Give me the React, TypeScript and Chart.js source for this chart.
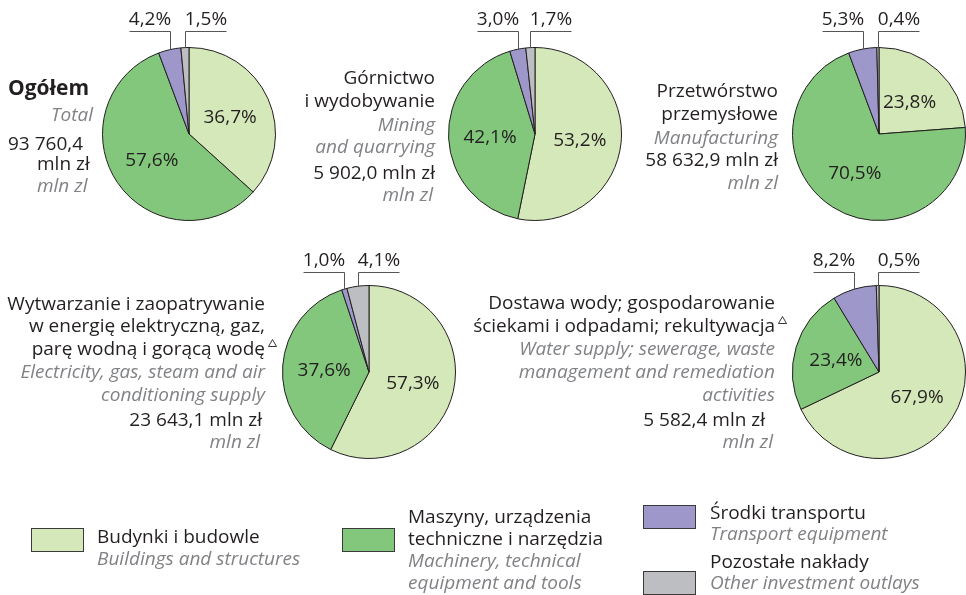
import React, { useEffect, useRef } from "react";
import { Chart, registerables } from "chart.js";

Chart.register(...registerables);

// ---------------- DATA ----------------
const categoriesPl = [
  "Budynki i budowle",
  "Maszyny, urządzenia\ntechniczne i narzędzia",
  "Środki transportu",
  "Pozostałe nakłady",
];
const categoriesEn = [
  "Buildings and structures",
  "Machinery, technical\nequipment and tools",
  "Transport equipment",
  "Other investment outlays",
];

const totalValues = [36.7, 57.6, 4.2, 1.5];
const miningValues = [53.2, 42.1, 3.0, 1.7];
const manufacturingValues = [23.8, 70.5, 5.3, 0.4];
const energyValues = [57.3, 37.6, 1.0, 4.1];
const waterValues = [67.9, 23.4, 8.2, 0.5];

const sectorNamesPl = [
  "Ogółem",
  "Górnictwo\ni wydobywanie",
  "Przetwórstwo\nprzemysłowe",
  "Wytwarzanie i zaopatrywanie\nw energię elektryczną, gaz,\nparę wodną i gorącą wodę",
  "Dostawa wody; gospodarowanie\nściekami i odpadami; rekultywacja",
];
const sectorNamesEn = [
  "Total",
  "Mining\nand quarrying",
  "Manufacturing",
  "Electricity, gas, steam and air\nconditioning supply",
  "Water supply; sewerage, waste\nmanagement and remediation\nactivities",
];
const sectorTotals = ["93 760,4", "5 902,0", "58 632,9", "23 643,1", "5 582,4"];
const sectorFootnote = [false, false, false, true, true];
const unitPl = "mln zł";
const unitEn = "mln zl";

const sectorValues = [totalValues, miningValues, manufacturingValues, energyValues, waterValues];

// ---------------- STYLE / LAYOUT ----------------
const W = 966;
const H = 595;
const FONT = '"Open Sans", "DejaVu Sans", sans-serif';
const DARK = "#231f20";
const GREY = "#808285";
const sliceColors = ["#d5e8b9", "#82c77b", "#9d97ca", "#bdbec2"];
const HALF = 87; // radius + border allowance

type Kind = "bold" | "pl" | "en";
type TLine = { text: string; kind: Kind; x: number; y: number; align: CanvasTextAlign; tri?: boolean };

// per panel: pie centre, leader gap, text baselines / x / alignment
const panelLayout = [
  { cx: 189, cy: 134, gap: 16.5, ys: [95, 121, 150, 170, 192], xs: [8, 93, 8, 37, 37], al: ["left", "right", "left", "left", "left"] },
  { cx: 535, cy: 134, gap: 16.5, ys: [84, 107, 131, 153, 179, 201], xs: [435, 435, 435, 435, 435, 433], al: "right" },
  { cx: 879, cy: 134, gap: 16.5, ys: [97, 120, 144, 166, 189], xs: [778, 778, 778, 778, 778], al: "right" },
  { cx: 369, cy: 372, gap: 13.5, ys: [310, 332, 355, 378, 401, 426, 448], xs: [265, 265, 265, 265, 265, 262, 260], al: "right" },
  { cx: 879, cy: 372, gap: 13.5, ys: [309, 332, 355, 378, 401, 426, 448], xs: [775, 775, 775, 775, 775, 765, 773], al: "right" },
];

const legendLayout = [
  { bx: 31, by: 528, tx: 97, ys: [543, 565] },
  { bx: 342, by: 528, tx: 408, ys: [523, 545, 567, 589] },
  { bx: 643, by: 505, tx: 710, ys: [519, 540] },
  { bx: 643, by: 571, tx: 710, ys: [568, 589] },
];

function fmt(v: number) {
  return v.toFixed(1).replace(".", ",") + "%";
}

function buildLines(i: number): TLine[] {
  const L = panelLayout[i];
  const entries: { text: string; kind: Kind; tri?: boolean }[] = [];
  const pl = sectorNamesPl[i].split("\n");
  const en = sectorNamesEn[i].split("\n");
  if (i === 0) {
    entries.push({ text: pl[0], kind: "bold" });
    en.forEach((t) => entries.push({ text: t, kind: "en" }));
    entries.push({ text: sectorTotals[i], kind: "pl" });
    entries.push({ text: unitPl, kind: "pl" });
    entries.push({ text: unitEn, kind: "en" });
  } else {
    pl.forEach((t, k) =>
      entries.push({ text: t, kind: "pl", tri: sectorFootnote[i] && k === pl.length - 1 })
    );
    en.forEach((t) => entries.push({ text: t, kind: "en" }));
    entries.push({ text: `${sectorTotals[i]} ${unitPl}`, kind: "pl" });
    entries.push({ text: unitEn, kind: "en" });
  }
  return entries.map((e, k) => ({
    ...e,
    x: L.xs[k],
    y: L.ys[k],
    align: (Array.isArray(L.al) ? L.al[k] : L.al) as CanvasTextAlign,
  }));
}

function setFont(ctx: CanvasRenderingContext2D, kind: Kind) {
  if (kind === "bold") {
    ctx.font = `bold 21px ${FONT}`;
    ctx.fillStyle = DARK;
  } else if (kind === "en") {
    ctx.font = `italic 19px ${FONT}`;
    ctx.fillStyle = GREY;
  } else {
    ctx.font = `19px ${FONT}`;
    ctx.fillStyle = DARK;
  }
}

const pieLabelPlugin = {
  id: "pieLabels",
  afterDatasetsDraw(chart: any, _args: any, opts: any) {
    const ctx: CanvasRenderingContext2D = chart.ctx;
    const meta = chart.getDatasetMeta(0);
    const values = chart.data.datasets[0].data as number[];
    ctx.save();
    ctx.font = `19px ${FONT}`;
    ctx.fillStyle = DARK;
    ctx.textAlign = "center";
    ctx.textBaseline = "alphabetic";
    let smallIdx = 0;
    meta.data.forEach((arc: any, i: number) => {
      const p = arc.getProps(["x", "y", "startAngle", "endAngle", "outerRadius"], true);
      const mid = (p.startAngle + p.endAngle) / 2;
      const label = fmt(values[i]);
      if (values[i] >= 10) {
        const r = p.outerRadius * 0.52;
        ctx.fillStyle = DARK;
        ctx.fillText(label, p.x + Math.cos(mid) * r, p.y + Math.sin(mid) * r + 7);
      } else {
        const px = p.x + Math.cos(mid) * p.outerRadius;
        const py = p.y + Math.sin(mid) * p.outerRadius;
        const ly = Math.round(p.y - p.outerRadius - opts.gap) + 0.5;
        const dir = smallIdx === 0 ? -1 : 1;
        smallIdx++;
        const sx = Math.round(px) + 0.5;
        ctx.beginPath();
        ctx.moveTo(sx, py);
        ctx.lineTo(sx, ly);
        ctx.lineTo(sx + dir * 41, ly);
        ctx.strokeStyle = "#555555";
        ctx.lineWidth = 1;
        ctx.stroke();
        ctx.fillStyle = DARK;
        ctx.fillText(label, sx + dir * 20.5, ly - 7);
      }
    });
    ctx.restore();
  },
};

const textPlugin = {
  id: "panelText",
  afterDraw(chart: any, _args: any, opts: any) {
    const ctx: CanvasRenderingContext2D = chart.ctx;
    ctx.save();
    ctx.textBaseline = "alphabetic";
    (opts.lines as TLine[]).forEach((l) => {
      setFont(ctx, l.kind);
      ctx.textAlign = l.align;
      ctx.fillText(l.text, l.x, l.y);
      if (l.tri) {
        const w = ctx.measureText(l.text).width;
        const xEnd = l.align === "right" ? l.x : l.x + w;
        const x0 = xEnd + 3.5;
        const yb = l.y - 8.5;
        ctx.beginPath();
        ctx.moveTo(x0, yb);
        ctx.lineTo(x0 + 8, yb);
        ctx.lineTo(x0 + 4, yb - 7);
        ctx.closePath();
        ctx.strokeStyle = DARK;
        ctx.lineWidth = 0.9;
        ctx.stroke();
      }
    });
    if (opts.legend) {
      categoriesPl.forEach((name, i) => {
        const L = legendLayout[i];
        ctx.fillStyle = sliceColors[i];
        ctx.fillRect(L.bx, L.by, 52, 23);
        ctx.strokeStyle = "#3a3a3a";
        ctx.lineWidth = 1;
        ctx.strokeRect(L.bx + 0.5, L.by + 0.5, 52, 23);
        const lines: { t: string; k: Kind }[] = [
          ...name.split("\n").map((t) => ({ t, k: "pl" as Kind })),
          ...categoriesEn[i].split("\n").map((t) => ({ t, k: "en" as Kind })),
        ];
        ctx.textAlign = "left";
        lines.forEach((ln, k) => {
          setFont(ctx, ln.k);
          ctx.fillText(ln.t, L.tx, L.ys[k]);
        });
      });
    }
    ctx.restore();
  },
};

function PiePanel({ index }: { index: number }) {
  const ref = useRef<HTMLCanvasElement | null>(null);
  useEffect(() => {
    if (!ref.current) return;
    const L = panelLayout[index];
    const chart = new Chart(ref.current, {
      type: "pie",
      data: {
        labels: categoriesPl,
        datasets: [
          {
            data: sectorValues[index],
            backgroundColor: sliceColors,
            borderColor: DARK,
            borderWidth: 1,
            hoverBorderWidth: 1,
            hoverOffset: 0,
          },
        ],
      },
      options: {
        responsive: false,
        animation: false,
        devicePixelRatio: 1,
        events: [],
        layout: {
          padding: {
            left: L.cx - HALF,
            right: W - L.cx - HALF,
            top: L.cy - HALF,
            bottom: H - L.cy - HALF,
          },
        },
        plugins: {
          legend: { display: false },
          tooltip: { enabled: false },
          title: { display: false },
          pieLabels: { gap: L.gap },
          panelText: { lines: buildLines(index), legend: index === 0 },
        } as any,
      },
      plugins: [pieLabelPlugin, textPlugin],
    } as any);
    return () => chart.destroy();
  }, [index]);
  return (
    <canvas
      ref={ref}
      width={W}
      height={H}
      style={{ position: "absolute", left: 0, top: 0, width: W, height: H }}
    />
  );
}

export default function App() {
  return (
    <div
      style={{
        position: "fixed",
        left: 0,
        top: 0,
        width: W,
        height: H,
        background: "#ffffff",
        overflow: "hidden",
      }}
    >
      {sectorValues.map((_, i) => (
        <PiePanel key={i} index={i} />
      ))}
    </div>
  );
}
